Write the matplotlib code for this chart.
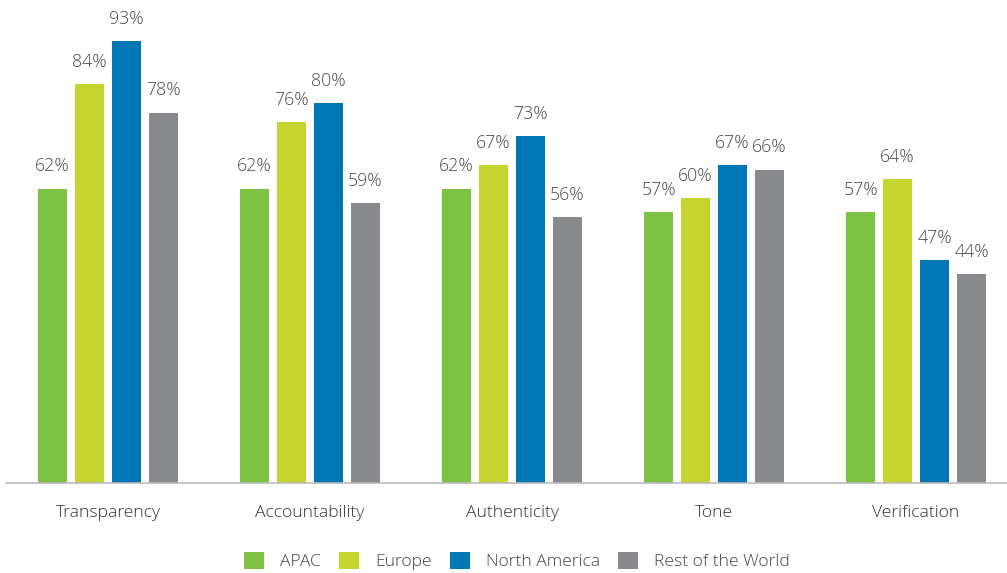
import matplotlib
matplotlib.use("Agg")
import matplotlib.pyplot as plt
from matplotlib.patches import Patch
import numpy as np

categories = ["Transparency", "Accountability", "Authenticity", "Tone", "Verification"]
series_names = ["APAC", "Europe", "North America", "Rest of the World"]
apac = [62, 62, 62, 57, 57]
europe = [84, 76, 67, 60, 64]
north_america = [93, 80, 73, 67, 47]
rest_of_world = [78, 59, 56, 66, 44]
colors = ["#7DC242", "#C4D52F", "#0077B5", "#898A8E"]

plt.rcParams['font.family'] = ['Open Sans', 'DejaVu Sans']

fig = plt.figure(figsize=(10.07, 5.73), dpi=100)
ax = fig.add_axes([6/1007, (573-483)/573, 1 - 6/1007, 483/573])

x = np.arange(len(categories))
step = 37/202
width = 29/202
all_series = [apac, europe, north_america, rest_of_world]
for i, (vals, col) in enumerate(zip(all_series, colors)):
    pos = x + (i - 1.5) * step
    bars = ax.bar(pos, vals, width=width, color=col, zorder=2)
    for b, v in zip(bars, vals):
        ax.annotate(f"{v}%", (b.get_x() + b.get_width()/2, v),
                    xytext=(0, 9.5), textcoords="offset points",
                    ha="center", va="bottom", fontsize=12.8, color="#4a4a4a",
                    fontweight="light")

ax.set_xlim(-0.505, 4.45)
ax.set_ylim(0, 483/4.75)
for s in ["top", "right", "left"]:
    ax.spines[s].set_visible(False)
ax.spines["bottom"].set_color("#BBBBBB")
ax.spines["bottom"].set_linewidth(1.2)
ax.set_yticks([])
ax.set_xticks(x)
ax.set_xticklabels(categories, fontsize=12.6, color="#333333", fontweight="light")
ax.tick_params(axis="x", length=0, pad=16)

handles = [Patch(facecolor=c, edgecolor="none") for c in colors]
fig.legend(handles, series_names, loc="center", bbox_to_anchor=(517/1007, 1 - 561/573),
           ncol=4, frameon=False, handlelength=1.15, handleheight=1.15,
           handletextpad=0.9, columnspacing=1.05, labelcolor="#444444",
           prop={'size': 12.6, 'weight': 'light'})

fig.savefig("out.png", dpi=100)
